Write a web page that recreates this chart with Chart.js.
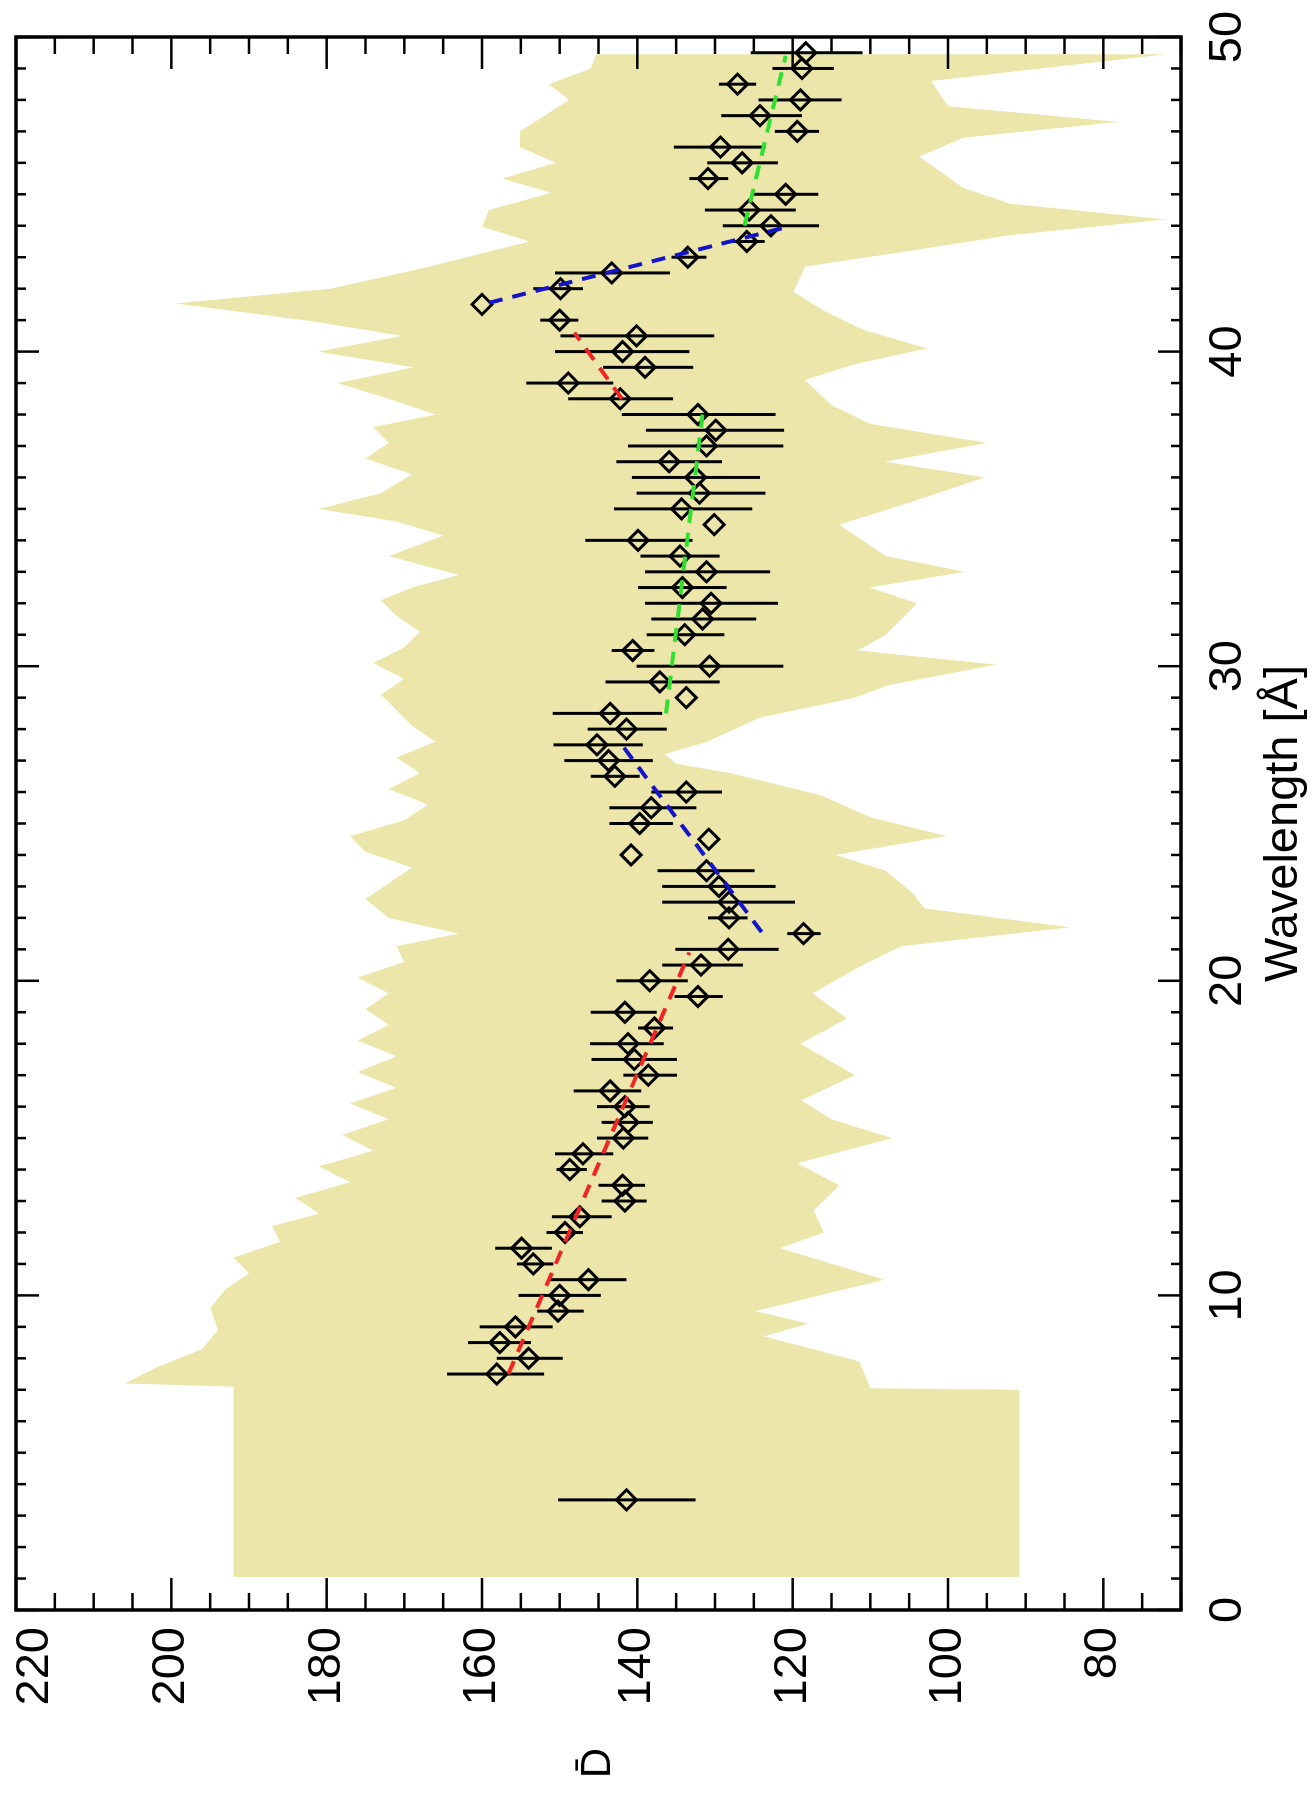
<!DOCTYPE html>
<html>
<head>
<meta charset="utf-8">
<script src="https://cdn.jsdelivr.net/npm/chart.js@4.4.1/dist/chart.umd.min.js"></script>
<style>
  html, body { margin:0; padding:0; background:#fff; overflow:hidden; }
  /* chart is drawn landscape, then turned a quarter turn to match the page */
  #wrap { position:absolute; left:0; top:0; width:1797px; height:1312px;
          transform-origin:0 0; transform:translateY(1797px) rotate(-90deg); }
</style>
</head>
<body>
<div id="wrap"><canvas id="chart"></canvas></div>
<script>
// Measurements: wavelength [A], mean D and its error range
const wave = [3.5, 7.5, 8.0, 8.5, 9.0, 9.5, 10.0, 10.5, 11.0, 11.5, 12.0, 12.5, 13.0, 13.5, 14.0, 14.5,
  15.0, 15.5, 16.0, 16.5, 17.0, 17.5, 18.0, 18.5, 19.0, 19.5, 20.0, 20.5, 21.0, 21.5, 22.0, 22.5,
  23.0, 23.5, 24.0, 24.5, 25.0, 25.5, 26.0, 26.5, 27.0, 27.5, 28.0, 28.5, 29.0, 29.5, 30.0, 30.5,
  31.0, 31.5, 32.0, 32.5, 33.0, 33.5, 34.0, 34.5, 35.0, 35.5, 36.0, 36.5, 37.0, 37.5, 38.0, 38.5,
  39.0, 39.5, 40.0, 40.5, 41.0, 41.5, 42.0, 42.5, 43.0, 43.5, 44.0, 44.5, 45.0, 45.5, 46.0, 46.5,
  47.0, 47.5, 48.0, 48.5, 49.0, 49.5];
const dbar = [141.4, 158.1, 154.0, 157.7, 155.7, 150.2, 150.0, 146.3, 153.4, 154.9, 149.3, 147.4, 141.6, 141.9, 148.7, 147.0,
  141.8, 141.2, 141.6, 143.5, 138.6, 140.4, 141.2, 137.8, 141.6, 132.2, 138.4, 131.8, 128.3, 118.6, 128.2, 128.2,
  129.5, 131.1, 140.8, 130.8, 139.7, 138.2, 133.7, 142.9, 143.7, 145.2, 141.4, 143.5, 133.7, 137.1, 130.7, 140.6,
  133.9, 131.6, 130.5, 134.2, 131.1, 134.5, 139.9, 130.1, 134.3, 132.0, 132.5, 135.9, 131.1, 129.9, 132.2, 142.2,
  148.9, 139.0, 141.9, 140.1, 150.0, 160.0, 149.9, 143.3, 133.5, 125.9, 122.8, 125.6, 120.9, 130.9, 126.5, 129.3,
  119.4, 124.2, 119.0, 127.1, 118.8, 118.3];
const errLo = [132.5, 152.0, 149.6, 153.7, 150.9, 146.9, 144.7, 141.4, 150.8, 151.0, 147.0, 143.3, 138.8, 139.0, 146.5, 143.1,
  138.6, 138.0, 138.4, 139.5, 134.9, 134.9, 136.6, 135.4, 137.5, 129.0, 133.5, 126.4, 121.8, 116.4, 125.8, 119.7,
  122.2, 124.9, null, null, 135.4, 132.4, 129.1, 139.7, 138.0, 139.3, 136.2, 136.8, null, 129.4, 121.2, 137.8,
  128.8, 124.7, 121.9, 128.5, 122.9, 129.4, 132.9, null, 125.2, 123.5, 124.2, 129.1, 121.2, 121.1, 122.2, 135.4,
  143.1, 132.8, 133.3, 130.1, 147.6, null, 147.0, 135.8, 131.1, 123.6, 116.6, 119.6, 116.7, 128.3, 121.9, 123.5,
  116.6, 118.8, 113.7, 124.7, 114.7, 111.0];
const errHi = [150.2, 164.5, 158.1, 161.8, 160.3, 152.9, 155.3, 151.5, 155.5, 158.3, 151.7, 151.0, 144.6, 145.0, 150.4, 150.6,
  145.2, 144.6, 145.2, 148.2, 141.8, 145.9, 146.1, 139.9, 146.0, 135.2, 142.7, 136.8, 135.1, 120.7, 130.9, 136.8,
  136.8, 137.4, null, null, 143.6, 143.6, 138.2, 146.0, 149.4, 150.8, 146.4, 150.9, null, 144.1, 140.1, 143.3,
  138.8, 138.2, 139.0, 139.9, 139.0, 139.6, 146.7, null, 143.0, 140.1, 140.7, 142.7, 141.2, 138.9, 142.0, 148.9,
  154.3, 144.4, 150.6, 149.9, 152.5, null, 153.4, 150.6, 135.6, 128.2, 129.0, 131.3, 125.1, 133.3, 131.0, 135.3,
  122.3, 129.2, 124.4, 129.5, 122.6, 125.4];

// Shaded range: upper and lower envelope
const upperWave = [1.05, 7.1, 7.2, 7.7, 8.3, 8.9, 9.6, 10.2, 10.7, 11.2, 11.7, 12.2, 12.6, 13.1, 13.6, 14.1, 14.6,
  15.1, 15.6, 16.1, 16.6, 17.1, 17.6, 18.1, 18.6, 19.1, 19.6, 20.1, 20.6, 21.1, 21.5, 22.0, 22.6, 23.1, 23.6,
  24.1, 24.6, 25.1, 25.6, 26.1, 26.6, 27.1, 27.6, 28.1, 28.6, 29.1, 29.6, 30.1, 30.6, 31.1, 31.6, 32.1, 32.5,
  32.9, 33.5, 34.15, 34.6, 35.0, 35.5, 36.1, 36.6, 37.1, 37.6, 38.0, 38.5, 39.0, 39.5, 40.0, 40.5, 40.96,
  41.53, 42.0, 42.7, 43.5, 43.97, 44.5, 45.05, 45.5, 46.0, 46.5, 47.0, 48.0, 48.5, 49.0, 49.45];
const upperD = [192, 192, 206, 202, 196, 194, 195, 193, 190, 192, 186, 187, 181, 184, 177, 181, 174,
  178, 172, 177, 171, 176, 171, 176, 172, 175, 172, 176, 170, 171, 163, 172, 175, 172, 169,
  175, 177, 170, 167, 172, 168, 171, 166, 169, 171, 173, 170, 174, 170, 168, 171, 173, 169,
  163, 172, 165, 171, 181, 173, 169, 175, 172, 174, 166, 172, 178.6, 168.8, 181.1, 170.3, 181.7,
  199.5, 179.5, 166.8, 153.9, 160, 159.1, 151.1, 157.4, 150.5, 155.1, 155.1, 148.8, 151.4, 146, 145.3];
const lowerWave = [1.05, 7.0, 7.05, 7.9, 8.7, 9.1, 9.5, 10.5, 11.5, 12.0, 12.7, 13.5, 14.2, 15.0, 15.6, 16.2,
  17.0, 18.0, 18.8, 19.6, 20.5, 21.1, 21.7, 22.3, 22.8, 23.5, 24.0, 24.6, 25.2, 25.9, 26.6, 26.9, 27.2, 27.6,
  28.36, 29.0, 29.4, 30.05, 30.5, 31.0, 31.5, 32.0, 32.5, 33.0, 33.5, 34.5, 35.2, 36.0, 36.5, 37.1, 37.7,
  38.3, 39.1, 39.6, 40.1, 40.7, 41.3, 41.9, 42.7, 43.2, 43.7, 44.2, 44.7, 45.2, 46.2, 46.8, 47.3, 47.8,
  48.6, 49.0, 49.45];
const lowerD = [90.8, 90.8, 110, 111.4, 123.7, 118, 124.8, 108.2, 121.6, 116, 117.3, 114, 119.4, 107.2, 115, 118.9,
  112, 119, 113, 117.4, 111, 106, 84.3, 103, 104.6, 108, 114.5, 100.2, 110, 116.4, 128, 135, 136.5, 131,
  124.3, 112, 107.6, 93.8, 111.6, 108, 106, 104, 110.1, 97.8, 108, 114, 105, 95.3, 108.1, 94.9, 110,
  115, 118.4, 112, 102.7, 111, 116, 119.9, 118.4, 105, 92, 72, 92, 98, 103.7, 98, 78, 100,
  102.2, 88, 72];

// Piecewise linear fits: [start wave, end wave], [start D, end D]
const fitRed1Wave = [7.5, 20.9],     fitRed1D = [156.6, 133.3];
const fitBlue1Wave = [21.55, 27.6],  fitBlue1D = [124.0, 142.3];
const fitGreen1Wave = [28.5, 38.0],  fitGreen1D = [136.3, 131.6];
const fitRed2Wave = [38.5, 40.6],    fitRed2D = [142.0, 148.1];
const fitBlue2Wave = [41.55, 43.95], fitBlue2D = [159.1, 120.9];
const fitGreen2Wave = [44.0, 49.4],  fitGreen2D = [126.2, 120.9];

// Axis ticks
const waveTicks = [0, 10, 20, 30, 40, 50];
const dTicks = [80, 100, 120, 140, 160, 180, 200, 220];

const FONT = '"Liberation Sans", Arial, sans-serif';
const RED = '#f02424', BLUE = '#1414c8', GREEN = '#30e030', BAND = '#ece6aa';

const pts = (xs, ys) => xs.map((v, i) => ({x: v, y: ys[i]}));

// band polygon: up the upper edge, back down the lower edge
const bandPts = pts(upperWave, upperD).concat(pts(lowerWave, lowerD).reverse());

function fitSet(xs, ys, color){
  return {
    type: 'line', data: pts(xs, ys), showLine: true, borderColor: color, borderWidth: 4,
    borderDash: [14, 10], pointRadius: 0, fill: false, order: 1
  };
}

// error bars, drawn right after the shaded band
const errorBars = {
  id: 'errorBars',
  afterDatasetDraw(chart, args){
    if(args.index !== 0) return;
    const {ctx, scales:{x, y}} = chart;
    ctx.save();
    ctx.strokeStyle = '#000';
    ctx.lineWidth = 3;
    wave.forEach((w, i) => {
      if(errLo[i] == null) return;
      const px = x.getPixelForValue(w);
      ctx.beginPath();
      ctx.moveTo(px, y.getPixelForValue(errLo[i]));
      ctx.lineTo(px, y.getPixelForValue(errHi[i]));
      ctx.stroke();
    });
    ctx.restore();
  }
};

// box frame with inward major/minor ticks on all four sides, plus the D-bar label
const frameTicks = {
  id: 'frameTicks',
  afterDraw(chart){
    const {ctx, chartArea:a, scales:{x, y}} = chart;
    ctx.save();
    ctx.strokeStyle = '#000';
    ctx.lineWidth = 2.5;
    const seg = (x1, y1, x2, y2) => { ctx.beginPath(); ctx.moveTo(x1, y1); ctx.lineTo(x2, y2); ctx.stroke(); };
    for(let w = 0; w <= 50; w++){
      const px = x.getPixelForValue(w);
      const len = w % 10 === 0 ? 23 : 10;
      seg(px, a.bottom, px, a.bottom - len);
      seg(px, a.top, px, a.top + len);
    }
    for(let d = 70; d <= 220; d += 5){
      const py = y.getPixelForValue(d);
      const len = d % 20 === 0 ? 32 : 17;
      seg(a.left, py, a.left + len, py);
      seg(a.right, py, a.right - len, py);
    }
    ctx.lineWidth = 3.5;
    ctx.strokeRect(a.left, a.top, a.right - a.left, a.bottom - a.top);
    ctx.fillStyle = '#000';
    ctx.font = '42px ' + FONT;
    ctx.textAlign = 'center';
    ctx.textBaseline = 'middle';
    ctx.fillText('D\u0304', 34, (a.top + a.bottom) / 2);
    ctx.restore();
  }
};

new Chart(document.getElementById('chart'), {
  type: 'scatter',
  data: {
    datasets: [
      {
        type: 'line', data: bandPts, showLine: true, fill: 'shape', backgroundColor: BAND,
        borderWidth: 0, borderColor: BAND, pointRadius: 0, tension: 0, order: 3
      },
      {
        data: pts(wave, dbar), pointStyle: 'rectRot', pointRadius: 10, borderWidth: 3,
        borderColor: '#000', backgroundColor: 'rgba(0,0,0,0)', order: 2
      },
      fitSet(fitRed1Wave, fitRed1D, RED),
      fitSet(fitBlue1Wave, fitBlue1D, BLUE),
      fitSet(fitGreen1Wave, fitGreen1D, GREEN),
      fitSet(fitRed2Wave, fitRed2D, RED),
      fitSet(fitBlue2Wave, fitBlue2D, BLUE),
      fitSet(fitGreen2Wave, fitGreen2D, GREEN)
    ]
  },
  options: {
    responsive: true,
    maintainAspectRatio: false,
    animation: false,
    events: [],
    layout: { padding: { top: 16, right: 37, bottom: 0, left: 0 } },
    plugins: { legend: { display: false }, tooltip: { enabled: false } },
    scales: {
      x: {
        type: 'linear', min: 0, max: 50,
        afterBuildTicks: s => { s.ticks = waveTicks.map(v => ({value: v})); },
        afterFit: s => { s.height = 131; s.paddingLeft = 0; s.paddingRight = 0; },
        grid: { display: false, drawTicks: false },
        border: { display: false },
        ticks: { color: '#000', padding: 19, maxRotation: 0, font: { family: FONT, size: 47 } },
        title: { display: true, text: 'Wavelength [Å]', color: '#000', padding: 0, font: { family: FONT, size: 47 } }
      },
      y: {
        type: 'linear', min: 70, max: 220,
        afterBuildTicks: s => { s.ticks = dTicks.map(v => ({value: v})); },
        afterFit: s => { s.width = 187; s.paddingTop = 0; s.paddingBottom = 0; },
        grid: { display: false, drawTicks: false },
        border: { display: false },
        ticks: {
          color: '#000', padding: 17, font: { family: FONT, size: 47, lineHeight: 0.8 },
          // the top label sits just inside the frame end, as in the original
          callback: v => v === dTicks[dTicks.length - 1] ? ['', String(v)] : String(v)
        }
      }
    }
  },
  plugins: [errorBars, frameTicks]
});
</script>
</body>
</html>
